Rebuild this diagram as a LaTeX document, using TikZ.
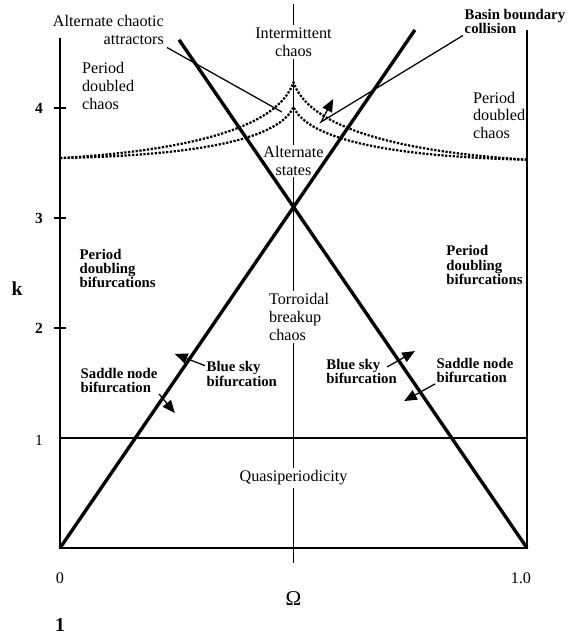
\documentclass[tikz,border=0pt]{standalone}
\usepackage{fontspec}
\setmainfont{Liberation Serif}
\usetikzlibrary{arrows.meta}

\begin{document}
\begin{tikzpicture}[x=11.675cm, y=2.75cm,
  txt/.style={font=\fontsize{11.5}{12.5}\selectfont, align=center, inner sep=2pt},
  btxt/.style={font=\fontsize{10.5}{10}\selectfont\bfseries, align=left, inner sep=1pt},
  thin/.style={line width=0.9pt},
  ptr/.style={line width=0.9pt, -{Triangle[length=9pt,width=7.5pt]}},
  dots/.style={line width=1.6pt, dash pattern=on 1.6pt off 1.1pt}]
\useasboundingbox (-0.1285,-0.791) rectangle (1.0857,4.982);

% frame and the k=1 line
\draw[line width=1.6pt] (0,4.64) -- (0,0) -- (1,0) -- (1,4.71);
\draw[line width=1.3pt] (0,1) -- (1,1);
\foreach \k in {2,3,4}
  \draw[line width=1.2pt] (-0.012,\k) -- (0.012,\k);

% the two boundary lines
\draw[line width=2.4pt] (0,0) -- (0.76,4.71);
\draw[line width=2.4pt] (1,0) -- (0.255,4.62);

% period doubling curves
\draw[dots] (0,3.545) .. controls (0.3,3.62) and (0.47,3.85) .. (0.5,4.236);
\draw[dots] (1,3.53) .. controls (0.7,3.61) and (0.53,3.85) .. (0.5,4.236);
\draw[dots] (0,3.545) .. controls (0.3,3.57) and (0.47,3.72) .. (0.5,4.01);
\draw[dots] (1,3.53) .. controls (0.7,3.56) and (0.53,3.72) .. (0.5,4.01);

% axis labels
\foreach \k in {2,3,4}
  \node[font=\fontsize{11}{12}\selectfont\bfseries] (t\k) at (-0.045,\k) {\k};
\node[font=\fontsize{11}{12}\selectfont] (t1) at (-0.045,0.98) {1};
\node[font=\fontsize{14}{14}\selectfont\bfseries] (kk) at (-0.092,2.355) {k};
\node[txt] (o0) at (0,-0.273) {0};
\node[txt] (o1) at (0.987,-0.273) {1.0};
\node[font=\fontsize{15}{15}\selectfont] (om) at (0.5,-0.46) {Ω};
\node[font=\fontsize{14}{14}\selectfont\bfseries] (fig) at (0,-0.7) {1};

% regions
\node[txt, align=right, anchor=east] (ac) at (0.229,4.71) {Alternate chaotic\\attractors};
\node[txt] (ic) at (0.5,4.6) {Intermittent\\chaos};
\node[btxt, anchor=west] (bb) at (0.863,4.786) {Basin boundary\\collision};
\node[txt, align=left, anchor=west] (pdl) at (0.0407,4.2) {Period\\doubled\\chaos};
\node[txt, align=left, anchor=west] (pdr) at (0.878,3.936) {Period\\doubled\\chaos};
\node[txt, inner sep=1pt] (as) at (0.5,3.52) {Alternate\\states};
\node[btxt, anchor=west] (pbl) at (0.0385,2.545) {Period\\doubling\\bifurcations};
\node[btxt, anchor=west] (pbr) at (0.824,2.573) {Period\\doubling\\bifurcations};
\node[txt, align=left] (tb) at (0.512,2.1) {Torroidal\\breakup\\chaos};
\node[btxt, anchor=west] (snl) at (0.0407,1.527) {Saddle node\\bifurcation};
\node[btxt, anchor=west] (bsl) at (0.3105,1.582) {Blue sky\\bifurcation};
\node[btxt, anchor=west] (bsr) at (0.567,1.609) {Blue sky\\bifurcation};
\node[btxt, anchor=west] (snr) at (0.803,1.618) {Saddle node\\bifurcation};
\node[txt] (qp) at (0.5,0.636) {Quasiperiodicity};

% centre line, broken by the labels
\coordinate (ctop) at (0.5,4.95);
\coordinate (cbot) at (0.5,-0.136);
\draw[thin] (ctop) -- (ic.north);
\draw[thin] (ic.south) -- (as.north);
\draw[thin] (as.south) -- (ctop |- tb.north);
\draw[thin] (ctop |- tb.south) -- (qp.north);
\draw[thin] (qp.south) -- (cbot);

% pointers
\coordinate (acend) at (0.475,3.964);
\coordinate (bbend) at (0.559,3.873);
\coordinate (bbtip) at (0.585,4.082);
\coordinate (snltip) at (0.246,1.227);
\coordinate (bsltip) at (0.246,1.764);
\coordinate (bsrtip) at (0.760,1.79);
\coordinate (snrtip) at (0.737,1.336);
\draw[thin] (ac.south east) -- (acend);
\draw[ptr] (bb.south west) -- (bbend) -- (bbtip);
\draw[ptr] (snl.south east) -- (snltip);
\draw[ptr] ([yshift=-4pt]bsl.north west) -- (bsltip);
\draw[ptr] ([shift={(-8pt,-7pt)}]bsr.north east) -- (bsrtip);
\draw[ptr] (snr.south west) -- (snrtip);
\end{tikzpicture}
\end{document}
